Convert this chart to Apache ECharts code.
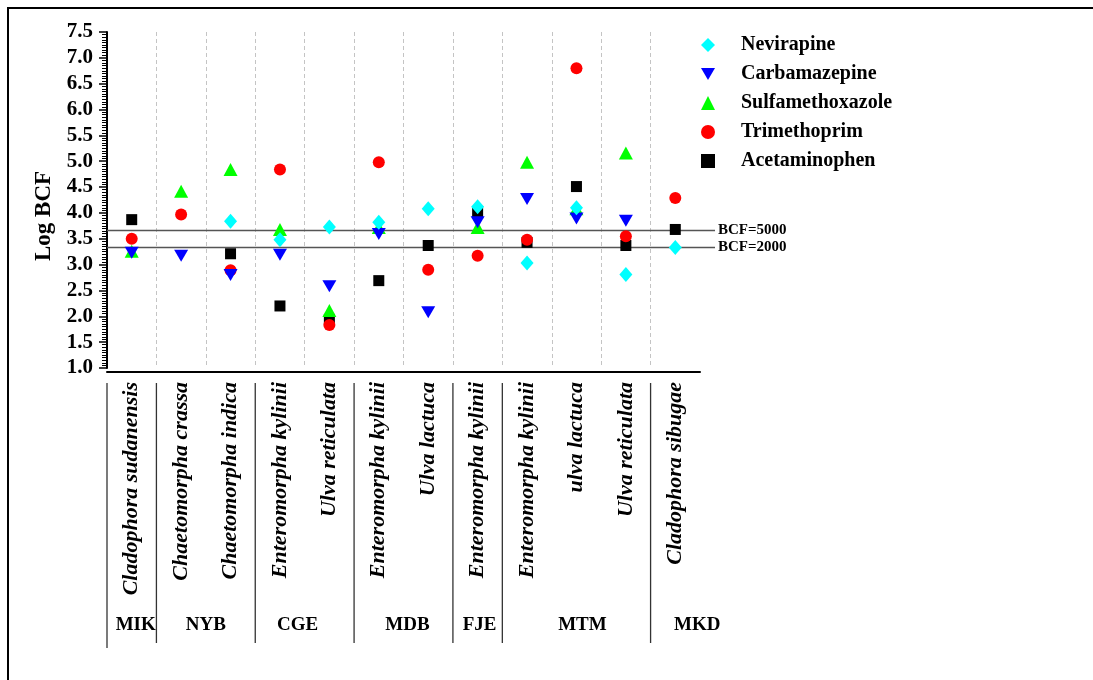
<!DOCTYPE html>
<html>
<head>
<meta charset="utf-8">
<script src="https://cdn.jsdelivr.net/npm/echarts@6/dist/echarts.min.js"></script>
<style>
  html, body { margin: 0; padding: 0; background: #fff; }
  #chart { width: 1093px; height: 680px; }
</style>
</head>
<body>
<div id="chart"></div>
<script>
// species (one per sampling site column)
const categories = [
  'Cladophora sudanensis', 'Chaetomorpha crassa', 'Chaetomorpha indica',
  'Enteromorpha kylinii', 'Ulva reticulata', 'Enteromorpha kylinii',
  'Ulva lactuca', 'Enteromorpha kylinii', 'Enteromorpha kylinii',
  'ulva lactuca', 'Ulva reticulata', 'Cladophora sibugae'
];

// Log BCF values, null = not shown
const nevirapine = [null, null, 3.84, 3.48, 3.73, 3.82, 4.08, 4.12, 3.03, 4.10, 2.81, 3.33];
const carbamazepine = [3.23, 3.17, 2.80, 3.19, 2.58, 3.59, 2.08, 3.82, 4.27, 3.89, 3.85, null];
const sulfamethoxazole = [3.26, 4.42, 4.84, 3.68, 2.11, 3.72, null, 3.72, 4.98, 4.08, 5.16, null];
const trimethoprim = [3.50, 3.97, 2.89, 4.84, 1.83, 4.98, 2.90, 3.17, 3.48, 6.80, 3.55, 4.29];
const acetaminophen = [3.87, null, 3.21, 2.20, 1.94, 2.69, 3.37, 4.00, 3.43, 4.51, 3.37, 3.68];

// site groups under the axis
const groupNames = ['MIK', 'NYB', 'CGE', 'MDB', 'FJE', 'MTM', 'MKD'];
const groupSizes = [1, 2, 2, 2, 1, 3, 1];

// reference levels
const refLevels = [3.66, 3.33];
const refLabels = ['BCF=5000', 'BCF=2000'];

const SERIF = '"Liberation Serif", "Times New Roman", serif';
// small label shifts to follow the original layout
const groupLabelShift = [4, 0, -7, 4, 2, 6, 22];

const chart = echarts.init(document.getElementById('chart'), null, { renderer: 'canvas' });

function scatter(name, data, symbol, size, color, z) {
  return {
    name, type: 'scatter', data, symbol, symbolSize: size, z,
    xAxisIndex: 0, yAxisIndex: 0,
    itemStyle: { color, opacity: 1 },
    silent: true
  };
}

const downTriangle = 'path://M0,0L20,0L10,17Z';

const option = {
  animation: false,
  backgroundColor: '#fff',
  grid: [
    { left: 107, top: 32, width: 593, height: 336 },
    { left: 107, top: 32, width: 608, height: 336 }
  ],
  legend: {
    orient: 'vertical',
    left: 701, top: 35, padding: 0,
    itemWidth: 14, itemHeight: 14, itemGap: 9,
    data: ['Nevirapine', 'Carbamazepine', 'Sulfamethoxazole', 'Trimethoprim', 'Acetaminophen'],
    textStyle: { fontFamily: SERIF, fontWeight: 'bold', fontSize: 20, color: '#000', padding: [0, 0, 0, 21] }
  },
  xAxis: [
    {
      type: 'category', gridIndex: 0, data: categories, boundaryGap: true, offset: 4,
      axisLine: { lineStyle: { color: '#000', width: 2 } },
      axisTick: { length: 7, lineStyle: { color: '#000', width: 1.5 } },
      axisLabel: {
        rotate: 90, margin: 10, interval: 0, color: '#000',
        fontFamily: SERIF, fontStyle: 'italic', fontWeight: 'bold', fontSize: 22
      },
      splitLine: {
        show: true, showMinLine: false, showMaxLine: false,
        lineStyle: { color: '#c4c4c4', type: [4, 3], width: 1 }
      }
    },
    { type: 'value', gridIndex: 1, min: 0, max: 1, show: false }
  ],
  yAxis: [
    {
      type: 'value', gridIndex: 0, min: 1, max: 7.5, interval: 0.5,
      name: 'Log BCF', nameLocation: 'middle', nameGap: 50,
      nameTextStyle: { fontFamily: SERIF, fontWeight: 'bold', fontSize: 23, color: '#000', padding: [0, 32, 0, 0] },
      axisLine: { show: true, lineStyle: { color: '#000', width: 2 } },
      axisTick: { show: true, length: 8, lineStyle: { color: '#000', width: 1.5 } },
      minorTick: { show: true, splitNumber: 10, length: 5, lineStyle: { color: '#000', width: 1 } },
      axisLabel: {
        margin: 14, color: '#000', fontFamily: SERIF, fontWeight: 'bold', fontSize: 21,
        formatter: (v) => v.toFixed(1)
      },
      splitLine: { show: false }
    },
    { type: 'value', gridIndex: 1, min: 1, max: 7.5, show: false }
  ],
  series: [
    scatter('Nevirapine', nevirapine, 'diamond', [13, 15], '#00ffff', 6),
    scatter('Carbamazepine', carbamazepine, downTriangle, [14, 12], '#0000ff', 5),
    scatter('Sulfamethoxazole', sulfamethoxazole, 'triangle', [14, 13], '#00ff00', 3),
    scatter('Trimethoprim', trimethoprim, 'circle', 12, '#ff0000', 4),
    scatter('Acetaminophen', acetaminophen, 'rect', 11, '#000000', 2)
  ].concat(refLevels.map((v, i) => ({
    name: refLabels[i], type: 'line', xAxisIndex: 1, yAxisIndex: 1,
    data: [[0, v], [1, v]], symbol: 'none', silent: true, z: 1,
    lineStyle: { color: '#555', width: 1.5 },
    endLabel: {
      show: true, formatter: refLabels[i], distance: 3, color: '#000',
      fontFamily: SERIF, fontWeight: 'bold', fontSize: 15
    }
  })))
};

chart.setOption(option);

// frame + site table drawn from the category axis positions
function drawTable() {
  const px = (i) => chart.convertToPixel({ xAxisIndex: 0 }, i);
  const band = px(1) - px(0);
  const edge = (i) => px(0) + (i - 0.5) * band;
  const els = [{
    type: 'rect', silent: true, z: 0,
    shape: { x: 8, y: 8, width: 1200, height: 800 },
    style: { fill: 'none', stroke: '#000', lineWidth: 2 }
  }];
  let start = 0;
  groupNames.forEach((g, k) => {
    const left = edge(start);
    els.push({
      type: 'line', silent: true,
      shape: { x1: left, y1: 383, x2: left, y2: k === 0 ? 648 : 643 },
      style: { stroke: '#333', lineWidth: 1.3 }
    });
    const mid = edge(start + groupSizes[k] / 2) + groupLabelShift[k];
    els.push({
      type: 'text', silent: true, x: mid, y: 625,
      style: {
        text: g, align: 'center', verticalAlign: 'middle', fill: '#000',
        font: 'bold 19px ' + SERIF
      }
    });
    start += groupSizes[k];
  });
  chart.setOption({ graphic: els });
}
drawTable();
</script>
</body>
</html>
